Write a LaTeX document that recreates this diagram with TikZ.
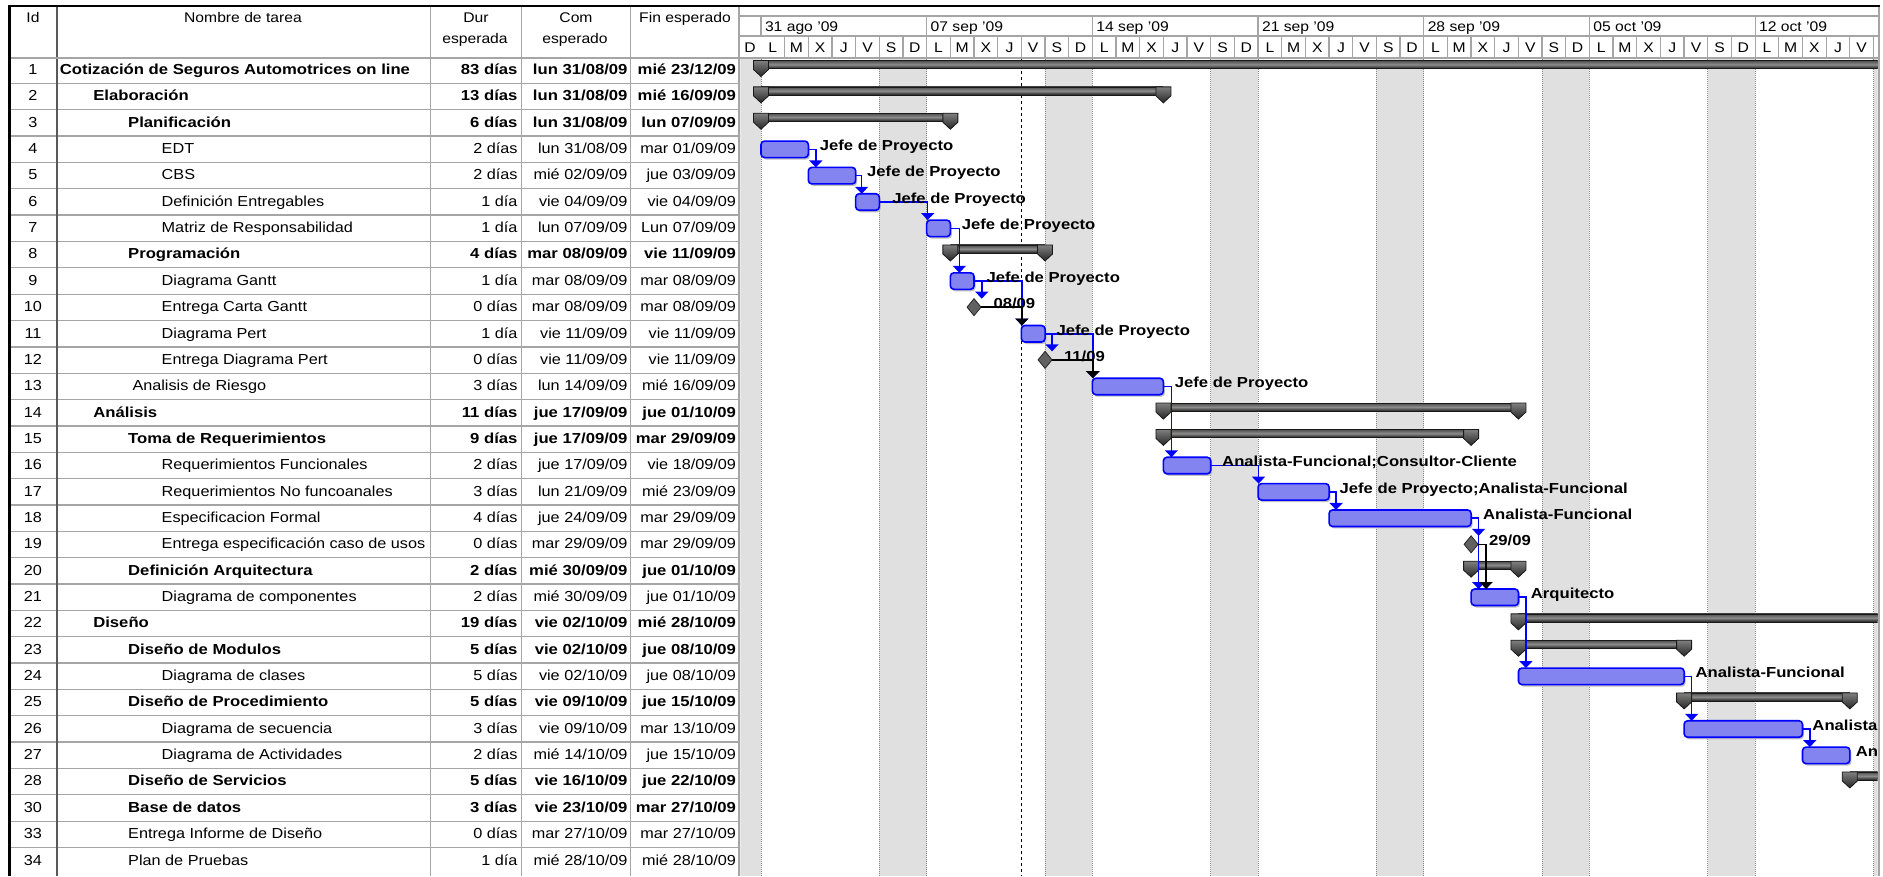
\documentclass[tikz,border=0pt]{standalone}
\usepackage{fontspec}
\setmainfont{Liberation Sans}[FakeStretch=1.12, BoldFeatures={FakeStretch=1.15}]
\usetikzlibrary{arrows.meta,shapes.geometric}

\definecolor{linkblue}{RGB}{0,0,255}
\definecolor{barfill}{RGB}{132,132,240}
\definecolor{gridgray}{RGB}{165,165,165}
\definecolor{wkendgray}{RGB}{224,224,224}

% x position of the start of a day (0 = lun 31/08/09), y position of the top of a table row
\newcommand{\DX}[1]{(761+23.67*(#1))}
\newcommand{\RT}[1]{(57+26.35*(#1))}
\newcommand{\tabfont}{\fontsize{14.5}{16}\selectfont}
\newcommand{\hdrfont}{\fontsize{14}{16}\selectfont}

\tikzset{
  tabtxt/.style={font=\tabfont, inner sep=0pt, outer sep=0pt},
  hdrtxt/.style={font=\hdrfont, inner sep=0pt, outer sep=0pt, anchor=base},
  reslabel/.style={font=\tabfont\bfseries, inner sep=0pt, outer sep=0pt, anchor=base west},
  gridline/.style={draw=gridgray, line width=1.3pt},
  taskbar/.style={draw=linkblue, line width=1.6pt, rounded corners=3.5pt, fill=barfill,
    inner sep=0pt, outer sep=0pt, anchor=north west, minimum height=16.5pt},
  barshadow/.style={fill=black!25, rounded corners=3.5pt},
  milestone/.style={diamond, draw=black!85, fill=black!62, line width=0.8pt, inner sep=0pt,
    outer sep=0pt, minimum width=14pt, minimum height=17pt},
  link/.style={draw=linkblue, line width=1.6pt, -{Triangle[width=13pt,length=7pt]}},
  mlink/.style={draw=black, line width=1.6pt, -{Triangle[width=13pt,length=7pt]}},
  sumbody/.style={top color=black!70, bottom color=black!88, middle color=black!45,
    draw=black!90, line width=0.6pt},
  sumcap/.style={top color=black!50, bottom color=black!85, draw=black!90, line width=0.8pt},
  wkend/.style={fill=wkendgray},
  wkedge/.style={draw=black!45, line width=1pt, dash pattern=on 1pt off 1pt},
  statusline/.style={draw=black, line width=1pt, dash pattern=on 3pt off 3pt},
}

% one table row: row index, id, name, indent, font switch, duration, start, finish
\newcommand{\trow}[8]{%
  \node[tabtxt, anchor=base] (id#1) at (33,{\RT{#1}+17.5}) {#2};
  \node[tabtxt, anchor=base west] (nm#1) at (#4,{\RT{#1}+17.5}) {#5{}#3};
  \node[tabtxt, anchor=base east] (du#1) at (517.5,{\RT{#1}+17.5}) {#5{}#6};
  \node[tabtxt, anchor=base east] (co#1) at (627.5,{\RT{#1}+17.5}) {#5{}#7};
  \node[tabtxt, anchor=base east] (fi#1) at (736,{\RT{#1}+17.5}) {#5{}#8};
}
% task bar: node name, row index, first day, day after the last
\newcommand{\taskbar}[4]{%
  \fill[barshadow] ({\DX{#3}+1.5},{\RT{#2}+7}) rectangle ({\DX{#4}+1.5},{\RT{#2}+23.5});
  \node[taskbar, minimum width={23.67*((#4)-(#3))}] (#1) at ({\DX{#3}},{\RT{#2}+5}) {};
}
% summary bar end cap: day, row index
\newcommand{\sumcapat}[2]{%
  \path[sumcap] ({\DX{#1}-7.5},{\RT{#2}+3.5}) -- ({\DX{#1}+7.5},{\RT{#2}+3.5})
    -- ({\DX{#1}+7.5},{\RT{#2}+12.5}) -- ({\DX{#1}},{\RT{#2}+19.5})
    -- ({\DX{#1}-7.5},{\RT{#2}+12.5}) -- cycle;
}
% summary bar: row index, first day, day after the last
\newcommand{\sumbar}[3]{%
  \path[sumbody] ({\DX{#2}},{\RT{#1}+3.5}) rectangle ({\DX{#3}},{\RT{#1}+11.5});
  \sumcapat{#2}{#1}\sumcapat{#3}{#1}%
}

\begin{document}
\begin{tikzpicture}[x=1pt, y=-1pt]
\useasboundingbox (0,0) rectangle (1883,876);
\fill[white] (0,0) rectangle (1883,876);

% ---------- table grid ----------
\foreach \i in {1,...,30}
  \draw[gridline] (9.5,{\RT{\i}}) -- (739.3,{\RT{\i}});
\draw[gridline] (430.5,5) -- (430.5,876);
\draw[gridline] (521.3,5) -- (521.3,876);
\draw[gridline] (630.5,5) -- (630.5,876);
\draw[draw=black!65, line width=2pt] (56.5,5) -- (56.5,876);
\draw[gridline, line width=1.8pt] (739.3,5) -- (739.3,876);

% ---------- table header ----------
\node[hdrtxt] (hid) at (33,22.5) {Id};
\node[hdrtxt] (hname) at (243,22.5) {Nombre de tarea};
\node[hdrtxt] (hdur) at (476,22.5) {Dur};
\node[hdrtxt] (hdur2) at (475,43.5) {esperada};
\node[hdrtxt] (hcom) at (576,22.5) {Com};
\node[hdrtxt] (hcom2) at (575,43.5) {esperado};
\node[hdrtxt] (hfin) at (685,22.5) {Fin esperado};

% ---------- timescale header ----------
\draw[gridline] (739.3,16) -- (1878.5,16);
\draw[gridline] (739.3,36) -- (1878.5,36);
\foreach \k in {0,...,6}
  \draw[gridline] ({\DX{7*\k}},16) -- ({\DX{7*\k}},36);
\foreach \d in {1,...,47}
  \draw[gridline] ({\DX{\d}},36) -- ({\DX{\d}},57);
\foreach \k/\w in {0/31 ago '09,1/07 sep '09,2/14 sep '09,3/21 sep '09,4/28 sep '09,5/05 oct '09,6/12 oct '09}
  \node[hdrtxt, anchor=base west] (wk\k) at ({\DX{7*\k}+4},31) {\w};
\node[hdrtxt] (dlpre) at (750,52.5) {D};
\foreach \k in {0,...,5}
  \foreach \j/\l in {0/L,1/M,2/X,3/J,4/V,5/S,6/D}
    \node[hdrtxt] (dl\k\j) at ({\DX{7*\k+\j+0.5}},52.5) {\l};
\foreach \j/\l in {0/L,1/M,2/X,3/J,4/V}
  \node[hdrtxt] (dl6\j) at ({\DX{42+\j+0.5}},52.5) {\l};
\draw[gridline, line width=2pt] (9.5,57.8) -- (1878.5,57.8);

% ---------- table rows ----------
\trow{0}{1}{Cotización de Seguros Automotrices on line}{59.8}{\bfseries}{83 días}{lun 31/08/09}{mié 23/12/09}
\trow{1}{2}{Elaboración}{93.3}{\bfseries}{13 días}{lun 31/08/09}{mié 16/09/09}
\trow{2}{3}{Planificación}{128.2}{\bfseries}{6 días}{lun 31/08/09}{lun 07/09/09}
\trow{3}{4}{EDT}{161.7}{}{2 días}{lun 31/08/09}{mar 01/09/09}
\trow{4}{5}{CBS}{161.7}{}{2 días}{mié 02/09/09}{jue 03/09/09}
\trow{5}{6}{Definición Entregables}{161.7}{}{1 día}{vie 04/09/09}{vie 04/09/09}
\trow{6}{7}{Matriz de Responsabilidad}{161.7}{}{1 día}{lun 07/09/09}{Lun 07/09/09}
\trow{7}{8}{Programación}{128.2}{\bfseries}{4 días}{mar 08/09/09}{vie 11/09/09}
\trow{8}{9}{Diagrama Gantt}{161.7}{}{1 día}{mar 08/09/09}{mar 08/09/09}
\trow{9}{10}{Entrega Carta Gantt}{161.7}{}{0 días}{mar 08/09/09}{mar 08/09/09}
\trow{10}{11}{Diagrama Pert}{161.7}{}{1 día}{vie 11/09/09}{vie 11/09/09}
\trow{11}{12}{Entrega Diagrama Pert}{161.7}{}{0 días}{vie 11/09/09}{vie 11/09/09}
\trow{12}{13}{Analisis de Riesgo}{132.5}{}{3 días}{lun 14/09/09}{mié 16/09/09}
\trow{13}{14}{Análisis}{93.3}{\bfseries}{11 días}{jue 17/09/09}{jue 01/10/09}
\trow{14}{15}{Toma de Requerimientos}{128.2}{\bfseries}{9 días}{jue 17/09/09}{mar 29/09/09}
\trow{15}{16}{Requerimientos Funcionales}{161.7}{}{2 días}{jue 17/09/09}{vie 18/09/09}
\trow{16}{17}{Requerimientos No funcoanales}{161.7}{}{3 días}{lun 21/09/09}{mié 23/09/09}
\trow{17}{18}{Especificacion Formal}{161.7}{}{4 días}{jue 24/09/09}{mar 29/09/09}
\trow{18}{19}{Entrega especificación caso de usos}{161.7}{}{0 días}{mar 29/09/09}{mar 29/09/09}
\trow{19}{20}{Definición Arquitectura}{128.2}{\bfseries}{2 días}{mié 30/09/09}{jue 01/10/09}
\trow{20}{21}{Diagrama de componentes}{161.7}{}{2 días}{mié 30/09/09}{jue 01/10/09}
\trow{21}{22}{Diseño}{93.3}{\bfseries}{19 días}{vie 02/10/09}{mié 28/10/09}
\trow{22}{23}{Diseño de Modulos}{128.2}{\bfseries}{5 días}{vie 02/10/09}{jue 08/10/09}
\trow{23}{24}{Diagrama de clases}{161.7}{}{5 días}{vie 02/10/09}{jue 08/10/09}
\trow{24}{25}{Diseño de Procedimiento}{128.2}{\bfseries}{5 días}{vie 09/10/09}{jue 15/10/09}
\trow{25}{26}{Diagrama de secuencia}{161.7}{}{3 días}{vie 09/10/09}{mar 13/10/09}
\trow{26}{27}{Diagrama de Actividades}{161.7}{}{2 días}{mié 14/10/09}{jue 15/10/09}
\trow{27}{28}{Diseño de Servicios}{128.2}{\bfseries}{5 días}{vie 16/10/09}{jue 22/10/09}
\trow{28}{30}{Base de datos}{128.2}{\bfseries}{3 días}{vie 23/10/09}{mar 27/10/09}
\trow{29}{33}{Entrega Informe de Diseño}{128.2}{}{0 días}{mar 27/10/09}{mar 27/10/09}
\trow{30}{34}{Plan de Pruebas}{128.2}{}{1 día}{mié 28/10/09}{mié 28/10/09}

% ---------- Gantt chart body ----------
\begin{scope}
  \clip (740.3,58.8) rectangle (1877.5,876);
  % non-working days
  \fill[wkend] (740.3,59) rectangle (761,876);
  \draw[wkedge] (761,59) -- (761,876);
  \foreach \k in {0,...,6}{
    \fill[wkend] ({\DX{7*\k+5}},59) rectangle ({\DX{7*\k+7}},876);
    \draw[wkedge] ({\DX{7*\k+5}},59) -- ({\DX{7*\k+5}},876);
    \draw[wkedge] ({\DX{7*\k+7}},59) -- ({\DX{7*\k+7}},876);
  }
  % status date
  \draw[statusline] ({\DX{11}},59) -- ({\DX{11}},876);

  % summary tasks
  \sumbar{0}{0}{60}
  \sumbar{1}{0}{17}
  \sumbar{2}{0}{8}
  \sumbar{7}{8}{12}
  \sumbar{13}{17}{32}
  \sumbar{14}{17}{30}
  \sumbar{19}{30}{32}
  \sumbar{21}{32}{60}
  \sumbar{22}{32}{39}
  \sumbar{24}{39}{46}
  \sumbar{27}{46}{60}

  % tasks
  \taskbar{b4}{3}{0}{2}
  \taskbar{b5}{4}{2}{4}
  \taskbar{b6}{5}{4}{5}
  \taskbar{b7}{6}{7}{8}
  \taskbar{b9}{8}{8}{9}
  \taskbar{b11}{10}{11}{12}
  \taskbar{b13}{12}{14}{17}
  \taskbar{b16}{15}{17}{19}
  \taskbar{b17}{16}{21}{24}
  \taskbar{b18}{17}{24}{30}
  \taskbar{b21}{20}{30}{32}
  \taskbar{b24}{23}{32}{39}
  \taskbar{b26}{25}{39}{44}
  \taskbar{b27}{26}{44}{46}

  % milestones
  \node[milestone] (m10) at ({\DX{9}},{\RT{9}+13}) {};
  \node[milestone] (m12) at ({\DX{12}},{\RT{11}+13}) {};
  \node[milestone] (m19) at ({\DX{30}},{\RT{18}+13}) {};

  % task links
  \draw[link] (b4.east) -- ++(7.5,0) coordinate (c4) -- (c4 |- b5.north);
  \draw[link] (b5.east) -- ++(6,0) coordinate (c5) -- (c5 |- b6.north);
  \draw[link] (b6.east) -| ([xshift=1pt]b7.north west);
  \draw[link] (b7.east) -- ++(9,0) coordinate (c7) -- (c7 |- b9.north);
  \draw[link] (b9.east) -| ([xshift=0.5pt]b11.north west);
  \draw[link] (b9.east) -- ++(7.7,0) coordinate (c9) -- (c9 |- m10.north);
  \draw[link] (b11.east) -| ([xshift=0.5pt]b13.north west);
  \draw[link] (b11.east) -- ++(7,0) coordinate (c11) -- (c11 |- m12.north);
  \draw[link] (b13.east) -- ++(8,0) coordinate (c13) -- (c13 |- b16.north);
  \draw[link] (b16.east) -| ([xshift=0.5pt]b17.north west);
  \draw[link] (b17.east) -- ++(7,0) coordinate (c17) -- (c17 |- b18.north);
  \draw[link] (b18.east) -- ++(7.5,0) coordinate (c18) -- (c18 |- m19.north);
  \draw[link] (c18) -- (c18 |- b21.north);
  \draw[link] (b21.east) -- ++(7.5,0) coordinate (c21) -- (c21 |- b24.north);
  \draw[link] (b24.east) -- ++(7.5,0) coordinate (c24) -- (c24 |- b26.north);
  \draw[link] (b26.east) -- ++(7.3,0) coordinate (c26) -- (c26 |- b27.north);
  % milestone links
  \draw[mlink] (m10.east) -| ([xshift=0.5pt]b11.north west);
  \draw[mlink] (m12.east) -| ([xshift=0.5pt]b13.north west);
  \draw[mlink] (m19.east) -- ++(8,0) coordinate (c19) -- (c19 |- b21.north);

  % resource names and milestone dates
  \node[reslabel] (l4) at ({\DX{2}+11.5},{\RT{3}+14.5}) {Jefe de Proyecto};
  \node[reslabel] (l5) at ({\DX{4}+11.5},{\RT{4}+14.5}) {Jefe de Proyecto};
  \node[reslabel] (l6) at ({\DX{5}+13},{\RT{5}+14.5}) {Jefe de Proyecto};
  \node[reslabel] (l7) at ({\DX{8}+11.5},{\RT{6}+14.5}) {Jefe de Proyecto};
  \node[reslabel] (l9) at ({\DX{9}+12.5},{\RT{8}+14.5}) {Jefe de Proyecto};
  \node[reslabel] (l10) at ({\DX{9}+19.5},{\RT{9}+14.5}) {08/09};
  \node[reslabel] (l11) at ({\DX{12}+11.5},{\RT{10}+14.5}) {Jefe de Proyecto};
  \node[reslabel] (l12) at ({\DX{12}+19},{\RT{11}+14.5}) {11/09};
  \node[reslabel] (l13) at ({\DX{17}+11.5},{\RT{12}+14.5}) {Jefe de Proyecto};
  \node[reslabel] (l16) at ({\DX{19}+11.5},{\RT{15}+14.5}) {Analista-Funcional;Consultor-Cliente};
  \node[reslabel] (l17) at ({\DX{24}+10.5},{\RT{16}+14.5}) {Jefe de Proyecto;Analista-Funcional};
  \node[reslabel] (l18) at ({\DX{30}+12},{\RT{17}+14.5}) {Analista-Funcional};
  \node[reslabel] (l19) at ({\DX{30}+18},{\RT{18}+14.5}) {29/09};
  \node[reslabel] (l21) at ({\DX{32}+12.5},{\RT{20}+14.5}) {Arquitecto};
  \node[reslabel] (l24) at ({\DX{39}+11.5},{\RT{23}+14.5}) {Analista-Funcional};
  \node[reslabel] (l26) at ({\DX{44}+10},{\RT{25}+14.5}) {Analista};
  \node[reslabel] (l27) at ({\DX{46}+6},{\RT{26}+14.5}) {An};
\end{scope}

% ---------- outer frame ----------
\draw[gridline, line width=2.5pt] (1879,5) -- (1879,876);
\draw[black, line width=2.2pt] (8.5,5.6) -- (1880,5.6);
\draw[black, line width=2.2pt] (9.5,4.5) -- (9.5,876);
\end{tikzpicture}
\end{document}
